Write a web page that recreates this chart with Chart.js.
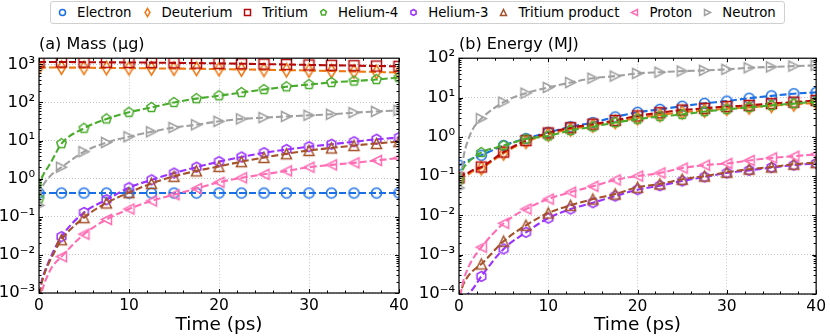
<!DOCTYPE html>
<html>
<head>
<meta charset="utf-8">
<script src="https://cdn.jsdelivr.net/npm/chart.js@4.4.1/dist/chart.umd.min.js"></script>
<style>
  body { margin: 0; width: 830px; height: 336px; background: #fff; position: relative; overflow: hidden; font-family: 'DejaVu Sans', sans-serif; }
  .panel { position: absolute; top: 0; width: 415px; height: 336px; }
  #legend { position: absolute; left: 50px; top: 1px; width: 735px; height: 23px; border: 1px solid #d0d0d0; border-radius: 3px; background: #fff; z-index: 5; display: flex; align-items: center; padding-left: 5px; box-sizing: border-box; font-size: 13.3px; color: #000; white-space: nowrap; }
  #legend .item { display: flex; align-items: center; margin-right: 9px; }
  #legend canvas { display: block; margin-right: 8px; }
</style>
</head>
<body>
<div id="legend"></div>
<div class="panel" style="left:0"><canvas id="mass" width="415" height="336"></canvas></div>
<div class="panel" style="left:415px"><canvas id="energy" width="415" height="336"></canvas></div>
<script>
// --- data ---
const species = ['Electron', 'Deuterium', 'Tritium', 'Helium-4', 'Helium-3', 'Tritium product', 'Proton', 'Neutron'];
const colors = ['#1a6fe6', '#f07814', '#b40a0a', '#4aac2c', '#9a32ff', '#a5522a', '#ff6eb4', '#a0a0a0'];
const markers = ['circle', 'thinDiamond', 'square', 'pentagon', 'hexagon', 'triangleUp', 'triangleLeft', 'triangleRight'];

// time in ps
const time = [0, 0.25, 0.5, 1, 1.5, 2.5, 5, 7.5, 10, 12.5, 15, 17.5, 20, 22.5, 25, 27.5, 30, 32.5, 35, 37.5, 40];

// (a) mass in ug
const massElectron = [0.42, 0.42, 0.42, 0.42, 0.42, 0.42, 0.42, 0.42, 0.42, 0.42, 0.42, 0.42, 0.42, 0.42, 0.42, 0.42, 0.42, 0.42, 0.42, 0.42, 0.42];
const massDeuterium = [830, 830, 830, 830, 830, 825, 815, 805, 795, 785, 775, 765, 750, 735, 720, 705, 690, 670, 650, 630, 610];
const massTritium = [1150, 1150, 1150, 1150, 1150, 1150, 1140, 1130, 1120, 1110, 1095, 1080, 1060, 1040, 1015, 990, 965, 945, 925, 905, 885];
const massHelium4 = [0.3, 0.9, 1.3, 2.0, 3.2, 8.3, 21, 37, 55, 74, 100, 126, 150, 182, 218, 258, 295, 335, 365, 400, 450];
const massHelium3 = [5e-4, 1.8e-3, 3e-3, 6e-3, 0.011, 0.03, 0.13, 0.28, 0.58, 0.93, 1.4, 2.0, 2.8, 3.7, 4.8, 5.8, 6.9, 8.0, 9.3, 10.8, 12];
const massTritiumProduct = [5e-4, 1.6e-3, 2.7e-3, 5.5e-3, 0.0095, 0.025, 0.095, 0.23, 0.43, 0.75, 1.15, 1.6, 2.1, 2.8, 3.6, 4.5, 5.5, 6.4, 7.4, 8.4, 9.4];
const massProton = [1e-4, 8e-4, 1.5e-3, 3e-3, 5e-3, 0.009, 0.035, 0.085, 0.16, 0.26, 0.38, 0.55, 0.8, 1.05, 1.3, 1.6, 2.0, 2.3, 2.6, 3.0, 3.5];
const massNeutron = [0.2, 0.5, 0.7, 1.0, 1.35, 2.0, 5.1, 8.9, 12.6, 17, 22, 26, 32, 37, 40, 43, 46, 49, 54, 58, 62];

// (b) energy in MJ
const energyElectron = [0.19, 0.2, 0.22, 0.25, 0.28, 0.34, 0.6, 0.9, 1.3, 1.8, 2.3, 3.2, 4.2, 5.0, 6.0, 7.1, 8.1, 9.6, 11, 12.5, 13.5];
const energyDeuterium = [0.085, 0.095, 0.1, 0.11, 0.13, 0.16, 0.38, 0.75, 1.15, 1.55, 1.95, 2.4, 3.0, 3.6, 4.2, 4.7, 5.2, 5.6, 6.2, 6.7, 7.3];
const energyTritium = [0.09, 0.1, 0.11, 0.12, 0.14, 0.17, 0.41, 0.8, 1.25, 1.7, 2.1, 2.6, 3.4, 4.1, 4.8, 5.3, 5.9, 6.3, 7.0, 7.6, 8.4];
const energyHelium4 = [0.08, 0.12, 0.16, 0.22, 0.28, 0.4, 0.6, 0.88, 1.05, 1.45, 1.8, 2.3, 2.8, 3.3, 3.7, 4.4, 5.0, 5.6, 6.3, 7.0, 7.8];
const energyHelium3 = [5e-5, 7e-5, 8e-5, 1e-4, 1.3e-4, 2.8e-4, 1.4e-3, 3.7e-3, 8.5e-3, 0.0145, 0.021, 0.031, 0.045, 0.057, 0.075, 0.095, 0.12, 0.14, 0.165, 0.19, 0.21];
const energyTritiumProduct = [8e-5, 1.2e-4, 1.8e-4, 2.8e-4, 3.8e-4, 5.8e-4, 2.2e-3, 5.6e-3, 0.0115, 0.018, 0.026, 0.035, 0.052, 0.063, 0.083, 0.1, 0.125, 0.15, 0.17, 0.2, 0.22];
const energyProton = [5e-5, 1.2e-4, 2.2e-4, 4.5e-4, 7.5e-4, 1.55e-3, 6.3e-3, 0.0145, 0.026, 0.039, 0.055, 0.08, 0.1, 0.12, 0.16, 0.19, 0.21, 0.25, 0.29, 0.32, 0.36];
const energyNeutron = [0.05, 0.1, 0.3, 0.8, 1.5, 2.9, 7.6, 12.9, 18, 24, 31, 35, 41, 44, 47, 49, 52, 57, 60, 63, 66];

const massSeries = [massElectron, massDeuterium, massTritium, massHelium4, massHelium3, massTritiumProduct, massProton, massNeutron];
const energySeries = [energyElectron, energyDeuterium, energyTritium, energyHelium4, energyHelium3, energyTritiumProduct, energyProton, energyNeutron];

const FONT = "'DejaVu Sans', sans-serif";

// --- marker images (hollow, matplotlib-like) ---
function markerCanvas(shape, color, s) {
  const w = Math.ceil(s * 1.5) + 4;
  const c = document.createElement('canvas');
  c.width = w; c.height = w;
  const g = c.getContext('2d');
  g.translate(w / 2, w / 2);
  const r = s / 2;
  g.beginPath();
  const poly = pts => { g.moveTo(pts[0][0], pts[0][1]); pts.slice(1).forEach(p => g.lineTo(p[0], p[1])); g.closePath(); };
  const regular = n => { const p = []; for (let k = 0; k < n; k++) { const a = -Math.PI / 2 + k * 2 * Math.PI / n; p.push([r * Math.cos(a), r * Math.sin(a)]); } poly(p); };
  switch (shape) {
    case 'circle': g.arc(0, 0, r, 0, Math.PI * 2); break;
    case 'square': g.rect(-r, -r, s, s); break;
    case 'thinDiamond': poly([[0, -r * 1.35], [r * 0.82, 0], [0, r * 1.35], [-r * 0.82, 0]]); break;
    case 'pentagon': regular(5); break;
    case 'hexagon': regular(6); break;
    case 'triangleUp': poly([[0, -r], [r, r], [-r, r]]); break;
    case 'triangleLeft': poly([[-r, 0], [r, -r], [r, r]]); break;
    case 'triangleRight': poly([[r, 0], [-r, -r], [-r, r]]); break;
  }
  g.lineWidth = 1.5;
  g.strokeStyle = color;
  g.stroke();
  return c;
}

const plotMarkers = markers.map((m, i) => markerCanvas(m, colors[i], 10));

// --- legend ---
const legendEl = document.getElementById('legend');
species.forEach((name, i) => {
  const item = document.createElement('div');
  item.className = 'item';
  const mk = markerCanvas(markers[i], colors[i], 6);
  item.appendChild(mk);
  const span = document.createElement('span');
  span.textContent = name;
  item.appendChild(span);
  legendEl.appendChild(item);
});

// --- frame + inward ticks like matplotlib ---
const framePlugin = {
  id: 'frame',
  afterDatasetsDraw(chart) {
    const { ctx, chartArea: a, scales: { x, y } } = chart;
    ctx.save();
    ctx.strokeStyle = '#000';
    ctx.lineWidth = 1;
    const seg = (x1, y1, x2, y2) => { ctx.beginPath(); ctx.moveTo(x1, y1); ctx.lineTo(x2, y2); ctx.stroke(); };
    for (let t = x.min; t <= x.max; t += 2) {
      const px = Math.round(x.getPixelForValue(t)) + 0.5;
      const len = t % 10 === 0 ? 4 : 2.5;
      seg(px, a.bottom, px, a.bottom - len);
      seg(px, a.top, px, a.top + len);
    }
    const d0 = Math.floor(Math.log10(y.min)), d1 = Math.ceil(Math.log10(y.max));
    for (let d = d0; d <= d1; d++) {
      for (let m = 1; m <= 9; m++) {
        const v = m * Math.pow(10, d);
        if (v < y.min * 0.999 || v > y.max * 1.001) continue;
        const py = Math.round(y.getPixelForValue(v)) + 0.5;
        const len = m === 1 ? 4 : 2.5;
        seg(a.left, py, a.left + len, py);
        seg(a.right, py, a.right - len, py);
      }
    }
    ctx.lineWidth = 1.2;
    ctx.strokeRect(a.left, a.top, a.right - a.left, a.bottom - a.top);
    ctx.restore();
  }
};

const supDigits = { '-': '⁻', '0': '⁰', '1': '¹', '2': '²', '3': '³', '4': '⁴', '5': '⁵', '6': '⁶', '7': '⁷', '8': '⁸', '9': '⁹' };
const powLabel = v => '10' + String(Math.round(Math.log10(v))).split('').map(ch => supDigits[ch]).join('');

function makePanel(canvasId, title, series, yMin, yMax, yWidth, xHeight, padRight) {
  const decades = [];
  for (let d = Math.ceil(Math.log10(yMin) - 1e-9); Math.pow(10, d) <= yMax * 1.0001; d++) decades.push(Math.pow(10, d));

  return new Chart(document.getElementById(canvasId), {
    type: 'line',
    data: {
      datasets: species.map((name, i) => ({
        label: name,
        data: time.map((t, k) => ({ x: t, y: series[i][k] })),
        borderColor: colors[i],
        borderWidth: 2.1,
        borderDash: [7, 3],
        fill: false,
        cubicInterpolationMode: 'monotone',
        pointStyle: plotMarkers[i],
        pointRadius: ctx => (time[ctx.dataIndex] % 2.5 === 0 ? 5 : 0),
        pointHoverRadius: 0,
        clip: 0,
        order: species.length - i
      }))
    },
    options: {
      responsive: false,
      animation: false,
      events: [],
      layout: { padding: { left: 0, right: padRight, top: 0, bottom: 0 } },
      plugins: {
        legend: { display: false },
        tooltip: { enabled: false },
        title: {
          display: true, text: title, align: 'start', fullSize: false, color: '#000',
          font: { family: FONT, size: 16, weight: 'normal' },
          padding: { top: 35, bottom: 4 }
        }
      },
      scales: {
        x: {
          type: 'linear', min: 0, max: 40,
          afterFit: s => { s.height = xHeight; },
          ticks: { stepSize: 10, color: '#000', font: { family: FONT, size: 15.5 }, padding: 4, maxRotation: 0 },
          grid: { color: '#b4b4b4', lineWidth: 0.8, drawTicks: false },
          border: { display: false, dash: [1, 2] },
          title: { display: true, text: 'Time (ps)', color: '#000', font: { family: FONT, size: 18.5 }, padding: { top: 0, bottom: 0 } }
        },
        y: {
          type: 'logarithmic', min: yMin, max: yMax,
          afterFit: s => { s.width = yWidth; },
          afterBuildTicks: s => { s.ticks = decades.map(v => ({ value: v })); },
          ticks: { color: '#000', font: { family: FONT, size: 16.5 }, padding: 4, callback: v => powLabel(v) },
          grid: { color: '#b4b4b4', lineWidth: 0.8, drawTicks: false },
          border: { display: false, dash: [1, 2] }
        }
      }
    },
    plugins: [framePlugin]
  });
}

makePanel('mass', '(a) Mass (μg)', massSeries, 1e-3, 1450, 39, 43, 16);
makePanel('energy', '(b) Energy (MJ)', energySeries, 1e-4, 100, 44, 42, 11);
</script>
</body>
</html>
